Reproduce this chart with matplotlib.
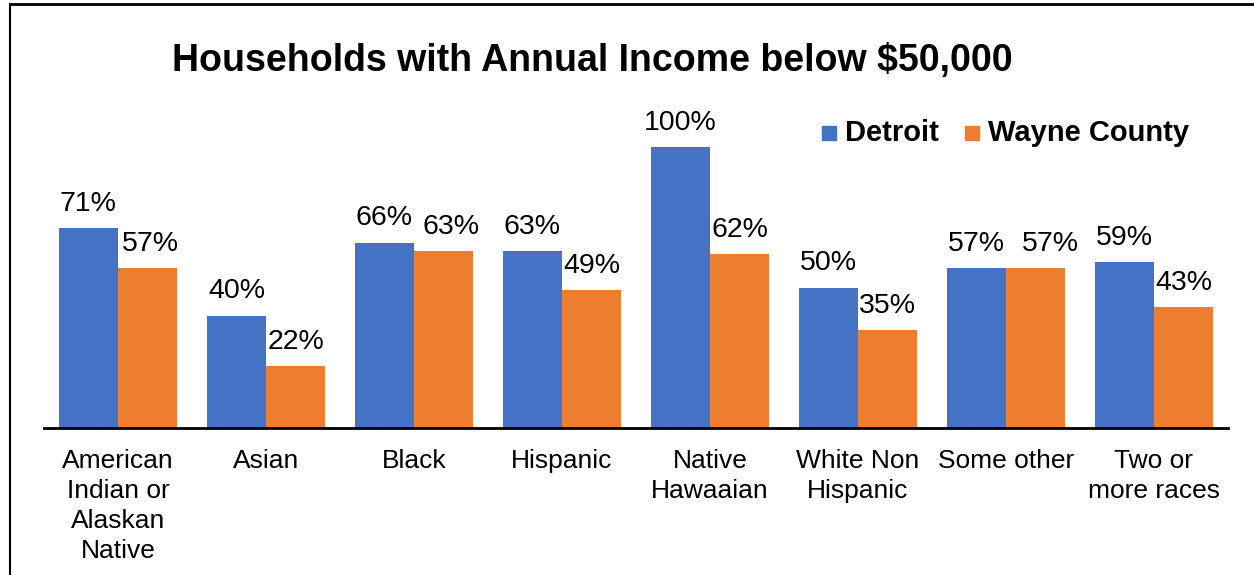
import matplotlib
matplotlib.use("Agg")
import matplotlib.pyplot as plt
from matplotlib.lines import Line2D
from matplotlib.patches import Rectangle
import numpy as np

plt.rcParams['font.family'] = ['Liberation Sans', 'DejaVu Sans']

categories = ["American\nIndian or\nAlaskan\nNative", "Asian", "Black", "Hispanic",
              "Native\nHawaaian", "White Non\nHispanic", "Some other", "Two or\nmore races"]
detroit = [71, 40, 66, 63, 100, 50, 57, 59]
wayne = [57, 22, 63, 49, 62, 35, 57, 43]
series_names = ["Detroit", "Wayne County"]
colors = ["#4472C4", "#ED7D31"]

# horizontal nudges (points) for the Wayne County value labels
wayne_label_dx = [2, 0, 5, 0, 0, 0, 11, 0]

W, H = 1254, 575
fig = plt.figure(figsize=(W / 100, H / 100), dpi=100)

ax_left, ax_right, ax_base, ax_top = 44, 1228, 428, 100
ax = fig.add_axes([ax_left / W, (H - ax_base) / H,
                   (ax_right - ax_left) / W, (ax_base - ax_top) / H])

x = np.arange(len(categories))
bw = 0.4
b1 = ax.bar(x - bw / 2, detroit, bw, color=colors[0], label=series_names[0])
b2 = ax.bar(x + bw / 2, wayne, bw, color=colors[1], label=series_names[1])

for bars, vals, dxs in ((b1, detroit, [0] * len(detroit)),
                        (b2, wayne, wayne_label_dx)):
    for bar, v, dx in zip(bars, vals, dxs):
        ax.annotate(f"{v}%", (bar.get_x() + bar.get_width() / 2, v),
                    xytext=(dx, 8), textcoords="offset points",
                    ha="center", va="bottom", fontsize=20.5)

ax.set_xlim(-0.5, len(categories) - 0.5)
ax.set_ylim(0, 100 * (ax_base - ax_top) / (ax_base - 147))
ax.set_yticks([])
ax.set_xticks(x)
ax.set_xticklabels(categories, fontsize=19, linespacing=1.32)
ax.tick_params(axis="x", length=0, pad=15)
for s in ("top", "right", "left"):
    ax.spines[s].set_visible(False)
ax.spines["bottom"].set_linewidth(2)

fig.text(592 / W, 1 - 61 / H, "Households with Annual Income below $50,000",
         ha="center", va="center", fontsize=27, fontweight="bold")

# legend
leg_y = 1 - 133 / H
for xs, xt, c, name in ((822, 845, colors[0], series_names[0]),
                        (965, 988, colors[1], series_names[1])):
    fig.patches.append(Rectangle((xs / W, leg_y - 7 / H), 14 / W, 14 / H,
                                 transform=fig.transFigure, color=c))
    fig.text(xt / W, leg_y, name, ha="left", va="center",
             fontsize=21, fontweight="bold")

# outer frame
fig.add_artist(Line2D([9.5 / W, 9.5 / W], [0, 1 - 3.5 / H], color="black",
                      lw=1.5, transform=fig.transFigure))
fig.add_artist(Line2D([9.5 / W, 1], [1 - 3.5 / H, 1 - 3.5 / H], color="black",
                      lw=2, transform=fig.transFigure))

fig.savefig("out.png", dpi=100)
